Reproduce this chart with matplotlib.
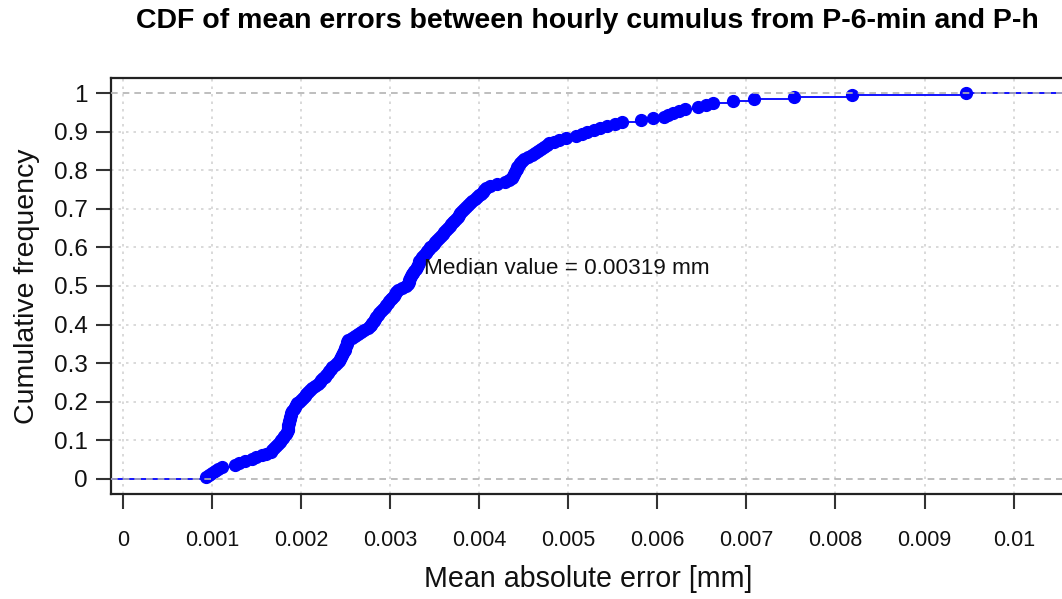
import numpy as np
import matplotlib
matplotlib.use("Agg")
import matplotlib.pyplot as plt

plt.rcParams['font.family'] = ['Liberation Sans', 'DejaVu Sans']

# mean absolute errors (mm), sorted, one per series
errors = np.array([
    0.00094, 0.00097, 0.00100, 0.00104, 0.00107, 0.00111, 0.00126, 0.00131, 0.00137, 0.00145,
    0.00150, 0.00156, 0.00161, 0.00166, 0.00168, 0.00170, 0.00172, 0.00174, 0.00176, 0.00178,
    0.00180, 0.00181, 0.00183, 0.00184, 0.00185, 0.00185, 0.00186, 0.00186, 0.00187, 0.00187,
    0.00188, 0.00188, 0.00189, 0.00189, 0.00190, 0.00192, 0.00193, 0.00194, 0.00196, 0.00198,
    0.00200, 0.00202, 0.00205, 0.00206, 0.00208, 0.00210, 0.00213, 0.00216, 0.00219, 0.00221,
    0.00223, 0.00225, 0.00227, 0.00228, 0.00230, 0.00232, 0.00234, 0.00235, 0.00238, 0.00240,
    0.00243, 0.00244, 0.00245, 0.00246, 0.00247, 0.00248, 0.00249, 0.00250, 0.00251, 0.00252,
    0.00252, 0.00253, 0.00257, 0.00261, 0.00264, 0.00268, 0.00271, 0.00275, 0.00278, 0.00279,
    0.00280, 0.00282, 0.00283, 0.00284, 0.00286, 0.00288, 0.00290, 0.00292, 0.00294, 0.00296,
    0.00298, 0.00299, 0.00301, 0.00302, 0.00304, 0.00306, 0.00307, 0.00309, 0.00313, 0.00318,
    0.00320, 0.00321, 0.00321, 0.00322, 0.00324, 0.00325, 0.00326, 0.00327, 0.00329, 0.00330,
    0.00331, 0.00332, 0.00333, 0.00335, 0.00336, 0.00338, 0.00340, 0.00342, 0.00344, 0.00345,
    0.00347, 0.00349, 0.00351, 0.00353, 0.00355, 0.00357, 0.00359, 0.00361, 0.00363, 0.00365,
    0.00367, 0.00369, 0.00371, 0.00372, 0.00374, 0.00376, 0.00377, 0.00379, 0.00381, 0.00383,
    0.00385, 0.00388, 0.00390, 0.00392, 0.00395, 0.00398, 0.00400, 0.00402, 0.00404, 0.00406,
    0.00408, 0.00412, 0.00420, 0.00429, 0.00434, 0.00437, 0.00438, 0.00439, 0.00440, 0.00441,
    0.00442, 0.00443, 0.00445, 0.00446, 0.00448, 0.00450, 0.00455, 0.00459, 0.00463, 0.00466,
    0.00470, 0.00473, 0.00476, 0.00479, 0.00484, 0.00490, 0.00498, 0.00509, 0.00515, 0.00521,
    0.00529, 0.00536, 0.00544, 0.00552, 0.00560, 0.00582, 0.00595, 0.00607, 0.00612, 0.00618,
    0.00624, 0.00631, 0.00646, 0.00655, 0.00663, 0.00685, 0.00709, 0.00753, 0.00818, 0.00947,
])

x_ticks = [0, 0.001, 0.002, 0.003, 0.004, 0.005, 0.006, 0.007, 0.008, 0.009, 0.01]
y_ticks = [0, 0.1, 0.2, 0.3, 0.4, 0.5, 0.6, 0.7, 0.8, 0.9, 1]

xs = np.sort(errors)
n = len(xs)
Fn = np.arange(1, n + 1) / n
mediana = np.median(xs)

fig = plt.figure(figsize=(10.62, 5.99), dpi=100)
ax = fig.add_axes([111/1062, 105/599, (1066-111)/1062, (494-78)/599])
x0, x1 = -0.0001313, 0.010587
ax.set_xlim(x0, x1)
ax.set_ylim(-0.04, 1.04)

# grid like R's grid()
for xt in x_ticks:
    ax.axvline(xt, color='#D3D3D3', ls=(0, (1.5, 3)), lw=1.2, zorder=1)
for yt in y_ticks[1:-1]:
    ax.axhline(yt, color='#D3D3D3', ls=(0, (1.5, 3)), lw=1.2, zorder=1)

# step function: horizontal pieces + points
left = np.concatenate(([x0], xs))
right = np.concatenate((xs, [x1]))
levels = np.concatenate(([0], Fn))
ax.hlines(levels, left, right, colors='blue', lw=1.3, zorder=3)
ax.plot(xs, Fn, 'o', color='blue', ms=8.5, mec='blue', zorder=4)

# 0 and 1 reference lines on top
for yt in (0, 1):
    ax.axhline(yt, color='#B3B3B3', ls=(0, (4, 3)), lw=1.2, zorder=5)

ax.annotate('Median value = %.5f mm' % mediana, xy=(mediana, 0.545),
            xytext=(12, 0), textcoords='offset points',
            ha='left', va='center', fontsize=16.2, color='#111111', zorder=6)

ax.set_xticks(x_ticks)
ax.set_xticklabels(['%g' % v for v in x_ticks])
ax.set_yticks(y_ticks)
ax.set_yticklabels(['%g' % v for v in y_ticks])
ax.tick_params(axis='both', direction='out', length=11, width=1.5,
               color='#333333', labelcolor='#111111')
ax.tick_params(axis='x', pad=15, labelsize=15.5)
ax.tick_params(axis='y', pad=6, labelsize=17.5)

for s in ax.spines.values():
    s.set_linewidth(1.6)
    s.set_color('#222222')

ax.set_xlabel('Mean absolute error [mm]', fontsize=20.6, labelpad=10, color='#111111')
ax.set_ylabel('Cumulative frequency', fontsize=20.5, labelpad=10, color='#111111')
fig.text((111+1064)/2/1062, 1 - 21/599,
         'CDF of mean errors between hourly cumulus from P-6-min and P-h',
         ha='center', va='center', fontsize=20.5, fontweight='bold')

fig.savefig('out.png', dpi=100)
